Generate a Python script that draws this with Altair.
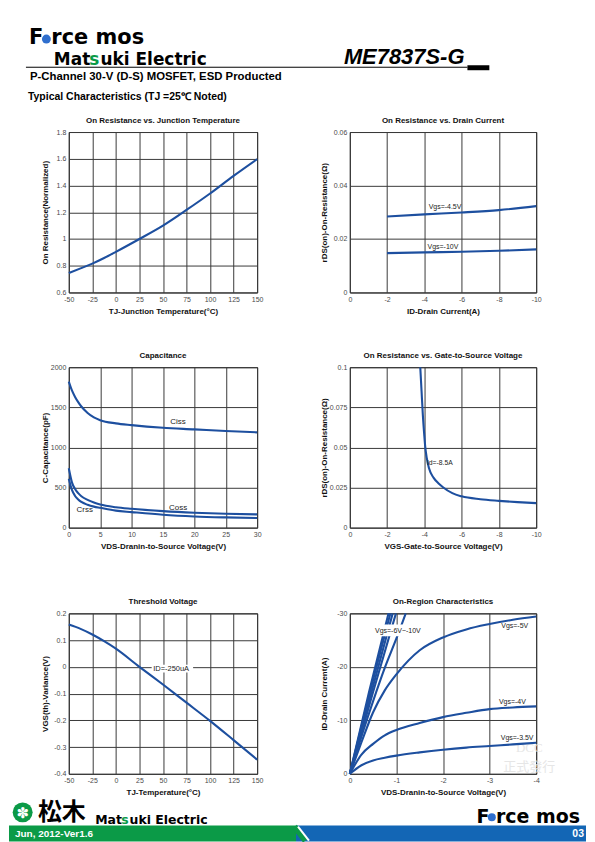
import altair as alt
import pandas as pd

# ---------------- page text ----------------
LOGO_TOP = ["F", "rce mos"]
MAKER = ["Mat", "s", "uki Electric"]
PART_NO = "ME7837S-G"
SUBTITLE = "P-Channel 30-V (D-S) MOSFET, ESD Producted"
SECTION = "Typical Characteristics (TJ =25\u2103 Noted)"
FOOT_DATE = "Jun, 2012-Ver1.6"
PAGE_NO = "03"
KANJI = "\u677e\u6728"
STAMP = ["DCC", "\u6b63\u5f0f\u767c\u884c"]

TITLES = ["On Resistance vs. Junction Temperature", "On Resistance vs. Drain Current",
          "Capacitance", "On Resistance vs. Gate-to-Source Voltage",
          "Threshold Voltage", "On-Region Characteristics"]
XTITLES = ["TJ-Junction Temperature(\u00b0C)", "ID-Drain Current(A)",
           "VDS-Dranin-to-Source Voltage(V)", "VGS-Gate-to-Source Voltage(V)",
           "TJ-Temperature(\u00b0C)", "VDS-Dranin-to-Source Voltage(V)"]
YTITLES = ["On Resistance(Normalized)", "rDS(on)-On-Resistance(\u03a9)",
           "C-Capacitance(pF)", "rDS(on)-On-Resistance(\u03a9)",
           "VGS(th)-Variance(V)", "ID-Drain Current(A)"]

# ---------------- chart data ----------------
# 1. On resistance vs junction temperature
TICKS_TJ = [-50, -25, 0, 25, 50, 75, 100, 125, 150]
TICKS_R1 = [0.6, 0.8, 1.0, 1.2, 1.4, 1.6, 1.8]
TJ = [-50, -37.5, -25, -12.5, 0, 25, 50, 75, 100, 125, 150]
RON_NORM = [0.745, 0.78, 0.816, 0.858, 0.904, 1.0, 1.10, 1.217, 1.34, 1.472, 1.597]

# 2. On resistance vs drain current
TICKS_ID = [0, -2, -4, -6, -8, -10]
TICKS_R2 = [0, 0.02, 0.04, 0.06]
ID_A = [-2, -4, -6, -8, -10]
RDS_VGS45 = [0.0284, 0.0292, 0.0299, 0.0308, 0.0323]
RDS_VGS10 = [0.0147, 0.0150, 0.0152, 0.0156, 0.0161]
LBL2_TEXT = ["Vgs=-4.5V", "Vgs=-10V"]
LBL2_X = [-4.23, -4.17]
LBL2_Y = [0.0311, 0.0163]

# 3. Capacitance
TICKS_VDS = [0, 5, 10, 15, 20, 25, 30]
TICKS_C = [0, 500, 1000, 1500, 2000]
VDS_C = [0, 0.5, 1, 1.5, 2, 3, 4, 5, 7.5, 10, 15, 20, 25, 30]
CISS = [1820, 1710, 1630, 1565, 1510, 1430, 1375, 1340, 1300, 1278, 1245, 1225, 1204, 1188]
COSS = [740, 565, 482, 430, 392, 346, 313, 289, 255, 235, 206, 186, 173, 165]
CRSS = [610, 470, 395, 352, 320, 285, 262, 247, 212, 194, 161, 140, 128, 120]
LBL3_TEXT = ["Ciss", "Coss", "Crss"]
LBL3_X = [17.4, 17.4, 2.55]
LBL3_Y = [1294, 226, 198]

# 4. On resistance vs gate-to-source voltage
TICKS_VGS = [0, -2, -4, -6, -8, -10]
TICKS_R4 = [0, 0.025, 0.05, 0.075, 0.1]
VGS = [-3.78, -3.85, -3.92, -4.0, -4.05, -4.12, -4.25, -4.5, -4.75, -5.0, -5.5, -6.0,
       -7.0, -8.0, -9.0, -10.0]
RDS_VGS = [0.100, 0.085, 0.070, 0.057, 0.050, 0.044, 0.037, 0.031, 0.0277, 0.0252, 0.0215,
           0.0195, 0.0177, 0.0167, 0.0159, 0.0153]
LBL4_TEXT = ["Id=-8.5A"]
LBL4_X = [-4.14]
LBL4_Y = [0.0392]

# 5. Threshold voltage
TICKS_V5 = [-0.4, -0.3, -0.2, -0.1, 0, 0.1, 0.2]
TJ5 = [-50, -37.5, -25, -12.5, 0, 25, 50, 75, 100, 125, 150]
VTH_VAR = [0.158, 0.142, 0.121, 0.096, 0.068, 0.0, -0.066, -0.134, -0.202, -0.274, -0.347]
LBL5_TEXT = ["ID=-250uA"]
LBL5_X = [39.6]
LBL5_Y = [-0.0163]
BOX5_X = [38.0, 82.0]
BOX5_Y = [0.008, -0.021]

# 6. On-region characteristics
TICKS_VDS6 = [0, -1, -2, -3, -4]
TICKS_ID6 = [0, -10, -20, -30]
VDS6 = [0, -0.25, -0.5, -0.75, -1, -1.5, -2, -2.5, -3, -3.5, -4]
ID_VGS5 = [0, -5.9, -11.5, -15.6, -18.6, -23.1, -25.5, -27.0, -28.0, -28.8, -29.4]
ID_VGS4 = [0, -3.6, -5.6, -7.2, -8.2, -9.5, -10.6, -11.4, -12.1, -12.4, -12.6]
ID_VGS35 = [0, -1.6, -2.5, -3.0, -3.4, -4.0, -4.5, -4.9, -5.2, -5.5, -5.8]
VDS_VGS10 = [0, -0.41, -0.83]
ID_VGS10 = [0, -15.2, -30]
VDS_VGS9 = [0, -0.43, -0.87]
ID_VGS9 = [0, -15.2, -30]
VDS_VGS8 = [0, -0.46, -0.92]
ID_VGS8 = [0, -15.1, -30]
VDS_VGS7 = [0, -0.49, -0.99]
ID_VGS7 = [0, -15.0, -30]
VDS_VGS6 = [0, -0.25, -0.5, -0.75, -1.0, -1.2]
ID_VGS6 = [0, -7.0, -13.6, -19.8, -25.3, -30]
LBL6_TEXT = ["Vgs=-6V~-10V", "Vgs=-5V", "Vgs=-4V", "Vgs=-3.5V"]
LBL6_X = [-0.54, -3.25, -3.2, -3.24]
LBL6_Y = [-26.4, -27.3, -13.1, -6.3]
BOX6_X = [-0.5, -1.48]
BOX6_Y = [-25.7, -27.9]

# ---------------- styling ----------------
FONT = "Liberation Sans, Arial, Helvetica, sans-serif"
LOGO = "DejaVu Sans, Liberation Sans, sans-serif"
CJK = "Noto Sans CJK JP, Noto Sans CJK SC, sans-serif"
BLUE = "#1d4f9f"
GRID = "#3a3a3a"
GREEN = "#0b9a47"
FBLUE = "#1366b5"
MINUS_FIX = "replace(datum.label, '\u2212', '-')"
H = 161
WL, WR = 189, 187


def axis(vals, fmt, title, **kw):
    opts = dict(values=vals, format=fmt, title=title, grid=True, gridColor=GRID, gridWidth=1,
                ticks=False, tickSize=0, domain=False, labelFlush=False, labelOverlap=False,
                labelFont=FONT, labelFontSize=7, labelColor="#4a4a4a", labelPadding=3,
                labelExpr=MINUS_FIX, titleFont=FONT, titleFontSize=8, titleFontWeight="bold",
                titleColor="#111111", titleBaseline="alphabetic")
    opts.update(kw)
    return alt.Axis(**opts)


def xenc(dom, vals, fmt, title):
    return alt.X("x:Q", scale=alt.Scale(domain=dom, nice=False, zero=False),
                 axis=axis(vals, fmt, title, titleY=21))


def yenc(dom, vals, fmt, title, tx):
    return alt.Y("y:Q", scale=alt.Scale(domain=dom, nice=False, zero=False),
                 axis=axis(vals, fmt, title, titleX=tx))


def lines(df, x, y):
    return alt.Chart(df).mark_line(color=BLUE, strokeWidth=2.1, interpolate="monotone").encode(
        x=x, y=y, detail="s:N")


def labels(df, x, y, size=7, align="left"):
    return alt.Chart(df).mark_text(align=align, baseline="alphabetic", font=FONT, fontSize=size,
                                   color="#222222").encode(x=x, y=y, text="label:N")


def box(bx, by, x, y):
    d = pd.DataFrame({"x": [bx[0]], "x2": [bx[1]], "y": [by[0]], "y2": [by[1]]})
    return alt.Chart(d).mark_rect(color="white").encode(x=x, x2="x2:Q", y=y, y2="y2:Q")


def panel(layers, title, w):
    return alt.layer(*layers).properties(
        width=w, height=H,
        title=alt.TitleParams(title, font=FONT, fontSize=8, fontWeight="bold", color="#111111",
                              offset=-3, frame="group", anchor="middle", baseline="alphabetic"),
        view=alt.ViewBackground(stroke="#1a1a1a", strokeWidth=1))


def series(xs, ys, name):
    return pd.DataFrame({"x": xs, "y": ys, "s": name})


def lbl_df(t, xs, ys):
    return pd.DataFrame({"x": xs, "y": ys, "label": t})


ONE = pd.DataFrame({"k": [0]})


def ptext(s, x, y, size, color="#000000", font=FONT, weight="bold", align="left", style="normal",
          baseline="alphabetic"):
    return alt.Chart(ONE).mark_text(align=align, baseline=baseline, font=font, fontSize=size,
                                    fontWeight=weight, fontStyle=style, color=color).encode(
        x=alt.value(x), y=alt.value(y), text=alt.value(s))


def prect(x, x2, y, y2, color):
    return alt.Chart(ONE).mark_rect(color=color).encode(
        x=alt.value(x), x2=alt.value(x2), y=alt.value(y), y2=alt.value(y2))


def prule(x, x2, y, y2, color, w):
    return alt.Chart(ONE).mark_rule(color=color, strokeWidth=w).encode(
        x=alt.value(x), x2=alt.value(x2), y=alt.value(y), y2=alt.value(y2))


def pdot(x, y, size, color):
    return alt.Chart(ONE).mark_point(shape="circle", filled=True, size=size, color=color,
                                     opacity=1).encode(x=alt.value(x), y=alt.value(y))


def blank(layers, w, h):
    return alt.layer(*layers).properties(width=w, height=h)


# ---------------- charts ----------------
x1 = xenc([-50, 150], TICKS_TJ, "d", XTITLES[0])
y1 = yenc([0.6, 1.8], TICKS_R1, ".1~f", YTITLES[0], -21)
c1 = panel([lines(series(TJ, RON_NORM, "r"), x1, y1)], TITLES[0], WL)

x2 = xenc([0, -10], TICKS_ID, "d", XTITLES[1])
y2 = yenc([0, 0.06], TICKS_R2, ".2~f", YTITLES[1], -23)
d2 = pd.concat([series(ID_A, RDS_VGS45, "-4.5"), series(ID_A, RDS_VGS10, "-10")])
c2 = panel([lines(d2, x2, y2), labels(lbl_df(LBL2_TEXT, LBL2_X, LBL2_Y), x2, y2)], TITLES[1], WR)

x3 = xenc([0, 30], TICKS_VDS, "d", XTITLES[2])
y3 = yenc([0, 2000], TICKS_C, "d", YTITLES[2], -21)
d3 = pd.concat([series(VDS_C, CISS, "ciss"), series(VDS_C, COSS, "coss"),
                series(VDS_C, CRSS, "crss")])
c3 = panel([lines(d3, x3, y3), labels(lbl_df(LBL3_TEXT, LBL3_X, LBL3_Y), x3, y3, 8, "center")],
           TITLES[2], WL)

x4 = xenc([0, -10], TICKS_VGS, "d", XTITLES[3])
y4 = yenc([0, 0.1], TICKS_R4, ".3~f", YTITLES[3], -23)
c4 = panel([lines(series(VGS, RDS_VGS, "r"), x4, y4),
            labels(lbl_df(LBL4_TEXT, LBL4_X, LBL4_Y), x4, y4, 6.8)], TITLES[3], WR)

x5 = xenc([-50, 150], TICKS_TJ, "d", XTITLES[4])
y5 = yenc([-0.4, 0.2], TICKS_V5, ".1~f", YTITLES[4], -21)
c5 = panel([lines(series(TJ5, VTH_VAR, "v"), x5, y5), box(BOX5_X, BOX5_Y, x5, y5),
            labels(lbl_df(LBL5_TEXT, LBL5_X, LBL5_Y), x5, y5, 7.5)], TITLES[4], WL)

x6 = xenc([0, -4], TICKS_VDS6, "d", XTITLES[5])
y6 = yenc([0, -30], TICKS_ID6, "d", YTITLES[5], -23)
d6 = pd.concat([series(VDS6, ID_VGS5, "-5"), series(VDS6, ID_VGS4, "-4"),
                series(VDS6, ID_VGS35, "-3.5"), series(VDS_VGS10, ID_VGS10, "-10"),
                series(VDS_VGS9, ID_VGS9, "-9"), series(VDS_VGS8, ID_VGS8, "-8"),
                series(VDS_VGS7, ID_VGS7, "-7"), series(VDS_VGS6, ID_VGS6, "-6")])
c6 = panel([ptext(STAMP[0], 180, 139, 13, "#e6e6e6", "Liberation Serif, serif", "normal", "center"),
            ptext(STAMP[1], 180, 158.5, 13, "#e6e6e6", CJK, "normal", "center"),
            lines(d6, x6, y6), box(BOX6_X, BOX6_Y, x6, y6),
            labels(lbl_df(LBL6_TEXT, LBL6_X, LBL6_Y), x6, y6, 7)], TITLES[5], WR)

# ---------------- header / footer ----------------
hL = blank([
    prect(-60, -59, 0, 1, "#ffffff"),
    ptext(LOGO_TOP[0], -40, 34, 21, font=LOGO),
    pdot(-22.5, 28.7, 80, "#2f6fce"),
    ptext(LOGO_TOP[1], -17.5, 34, 21, font=LOGO),
    ptext(MAKER[0], -15, 54.7, 17, font=LOGO),
    ptext(MAKER[1], 20.6, 54.7, 17, GREEN, font=LOGO),
    ptext(MAKER[2], 31.8, 54.7, 17, font=LOGO),
    prule(-43, 400, 57, 57, "#000000", 1),
    ptext(SUBTITLE, -39, 69.5, 11.4),
    ptext(SECTION, -41, 89.5, 10.5),
], WL, 122)
hR = blank([
    ptext(PART_NO, 115, 54, 22, font="Liberation Sans Narrow, Liberation Sans, sans-serif",
          align="right", style="italic"),
    prect(118, 140, 55, 60, "#000000"),
], WR, 122)

fL = blank([
    prect(-60, 228, 52, 68, GREEN),
    ptext(FOOT_DATE, -54, 63, 10, "#ffffff"),
    pdot(-46.3, 38.7, 400, GREEN),
    ptext("\u273d", -46.3, 39, 15, "#ffffff", LOGO, "normal", "center", baseline="middle"),
    ptext(KANJI, -31, 46, 24, font=CJK),
    ptext(MAKER[0], 26.5, 50, 12.5, font=LOGO),
    ptext(MAKER[1], 52.7, 50, 12.5, GREEN, font=LOGO),
    ptext(MAKER[2], 61, 50, 12.5, font=LOGO),
], WL, 60)
fR = blank([
    prect(-54, 237, 52, 68, FBLUE),
    prule(-55.5, -44.5, 53, 67, GREEN, 6),
    prule(-52, -41, 53, 67, "#ffffff", 2),
    ptext(PAGE_NO, 235, 63, 10.5, "#ffffff", align="right"),
    ptext(LOGO_TOP[0], 127, 49, 19, font=LOGO),
    pdot(142.5, 43.5, 64, "#2f6fce"),
    ptext(LOGO_TOP[1], 146.7, 49, 19, font=LOGO),
], WR, 60)

sp = lambda w, h: blank([ptext("", 0, 0, 1)], w, h)

chart = alt.concat(
    hL, hR,
    c1, c2,
    sp(WL, 75), sp(WR, 75),
    c3, c4,
    sp(WL, 86), sp(WR, 86),
    c5, c6,
    fL, fR,
    columns=2, spacing=alt.RowColnumber(row=0, column=93), bounds="flush", align="each",
).properties(padding={"left": 0, "top": 0, "right": 0, "bottom": 0}).configure_view(
    stroke="transparent")

chart.save("out.html", embed_options={"renderer": "svg", "actions": False})
